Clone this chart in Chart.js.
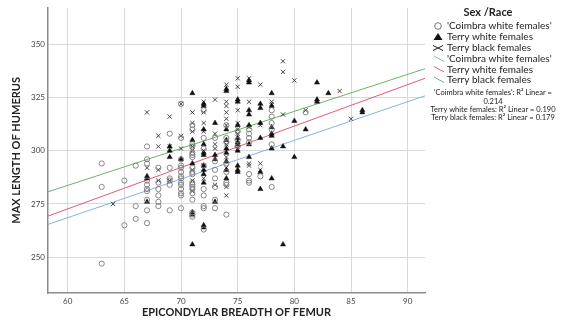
<!DOCTYPE html>
<html>
<head>
<meta charset="utf-8">
<script src="https://cdn.jsdelivr.net/npm/chart.js@4"></script>
<style>
html, body { margin: 0; padding: 0; background: #fff; }
</style>
</head>
<body>
<canvas id="myChart" width="564" height="328"></canvas>
<script>
const xTicks = [60, 65, 70, 75, 80, 85, 90];
const yTicks = [250, 275, 300, 325, 350];

// epicondylar breadth columns and the humerus lengths seen in each
const coimbraCols = [63, 65, 66, 67, 68, 69, 70, 71, 72, 73, 74, 75, 76, 77, 78, 81];
const coimbraVals = [
    [294, 283, 247],
    [286, 265],
    [293, 274, 268],
    [302, 296, 294, 286, 284, 282, 281, 277, 272, 266],
    [292, 285, 282, 279, 276, 274],
    [308, 292, 287, 286, 284, 272],
    [322, 306, 296, 293, 292, 290, 288, 287, 285, 284, 282, 280, 279, 273],
    [312, 310, 303, 302, 299, 298, 297, 292, 290, 289, 285, 284, 283, 282, 280, 277, 271, 270, 269],
    [319, 306, 301, 293, 282, 279, 274, 273, 263],
    [306, 295, 291, 287, 283, 277, 273],
    [312, 306, 304, 294, 290, 285, 284, 270],
    [309, 305, 302],
    [310, 308, 306, 304, 289, 286, 285],
    [288],
    [319, 316, 313, 310, 303, 283],
    [318]
];

const whiteCols = [67, 69, 70, 71, 72, 73, 74, 75, 76, 77, 78, 79, 80, 81, 82, 83, 86];
const whiteVals = [
    [288, 287, 276],
    [302, 300, 297],
    [296],
    [327, 305, 294, 271, 270, 256],
    [322, 321, 310, 303, 299, 298, 293, 291, 289, 285, 265, 264],
    [313, 298, 296, 276],
    [329, 328, 310, 305, 301, 299, 295, 291, 287],
    [324, 323, 312, 306, 304, 303, 300, 293, 291, 290],
    [333, 332, 319, 317, 312, 303, 297],
    [322, 320, 313, 306, 290, 282],
    [327, 321, 311, 308, 307, 301, 287],
    [302, 256],
    [314, 297],
    [310],
    [332, 324, 323],
    [327],
    [319, 318]
];

const blackCols = [64, 67, 68, 69, 70, 71, 72, 73, 74, 75, 76, 77, 78, 79, 80, 81, 84, 85];
const blackVals = [
    [275],
    [318, 292],
    [307, 302, 291, 286],
    [316, 302, 286],
    [322, 307, 301],
    [318, 313, 309, 302, 300, 291, 286, 281],
    [323, 318, 313, 309, 300, 293, 287],
    [324, 308, 303, 301, 284],
    [331, 323, 321, 318, 315, 312, 303, 297, 292, 283, 279],
    [334, 330, 319, 313, 310, 308, 301],
    [334, 323, 311, 294, 293],
    [331, 312, 294, 291],
    [323, 322],
    [342, 337, 317],
    [333],
    [319],
    [328],
    [315]
];

// fit lines, value at each end of the x axis
const fitX = [58.26, 91.53];
const coimbraFit = [265.4, 325.8];
const whiteFit = [269.3, 334.0];
const blackFit = [280.7, 338.5];

const r2Text = [
    "'Coimbra white females': R² Linear =",
    "0.214",
    "Terry white females: R² Linear = 0.190",
    "Terry black females: R² Linear = 0.179"
];

function points(cols, vals) {
    let out = [];
    cols.forEach((c, i) => vals[i].forEach(v => out.push({x: c, y: v})));
    return out;
}

function fitLine(ys) {
    return fitX.map((x, i) => ({x: x, y: ys[i]}));
}

const sideLegend = {
    id: 'sideLegend',
    afterDraw(chart) {
        const ctx = chart.ctx;
        const ds = chart.data.datasets;
        ctx.save();
        ctx.fillStyle = '#222';
        ctx.textBaseline = 'middle';
        ctx.textAlign = 'center';
        ctx.font = 'bold 11px Lato';
        ctx.fillText('Sex /Race', 488, 12);

        const rows = [26, 37, 48, 59, 69.5, 80];
        ctx.font = '10px Lato';
        ctx.textAlign = 'left';
        ds.forEach((d, i) => {
            const y = rows[i];
            ctx.fillStyle = '#222';
            ctx.fillText(d.label, 447, y);
            ctx.lineWidth = 1;
            if (i == 0) {
                ctx.strokeStyle = '#777';
                ctx.beginPath();
                ctx.arc(438, y, 3.3, 0, Math.PI * 2);
                ctx.stroke();
            } else if (i == 1) {
                ctx.fillStyle = '#111';
                ctx.beginPath();
                ctx.moveTo(438, y - 4);
                ctx.lineTo(442.5, y + 3);
                ctx.lineTo(433.5, y + 3);
                ctx.closePath();
                ctx.fill();
            } else if (i == 2) {
                ctx.strokeStyle = '#222';
                ctx.beginPath();
                ctx.moveTo(433, y - 2.5);
                ctx.lineTo(443, y + 2.5);
                ctx.moveTo(433, y + 2.5);
                ctx.lineTo(443, y - 2.5);
                ctx.stroke();
            } else {
                ctx.strokeStyle = d.borderColor;
                ctx.beginPath();
                ctx.moveTo(434, y - 3);
                ctx.lineTo(444, y + 2.5);
                ctx.stroke();
            }
        });

        ctx.fillStyle = '#222';
        ctx.textAlign = 'center';
        ctx.font = '7.5px Lato';
        [93, 101.5, 110, 118].forEach((y, i) => ctx.fillText(r2Text[i], 493, y));
        ctx.restore();
    }
};

const data = {
    datasets: [{
        label: "'Coimbra white females'",
        data: points(coimbraCols, coimbraVals),
        pointStyle: 'circle',
        pointRadius: 2.6,
        borderColor: '#7a7a7a',
        backgroundColor: 'rgba(0,0,0,0)',
        borderWidth: 0.9
    }, {
        label: 'Terry white females',
        data: points(whiteCols, whiteVals),
        pointStyle: 'triangle',
        pointRadius: 3,
        borderColor: '#111',
        backgroundColor: '#111',
        borderWidth: 0.5
    }, {
        label: 'Terry black females',
        data: points(blackCols, blackVals),
        pointStyle: 'crossRot',
        pointRadius: 3,
        borderColor: '#333',
        borderWidth: 0.9
    }, {
        label: "'Coimbra white females'",
        data: fitLine(coimbraFit),
        showLine: true,
        pointRadius: 0,
        borderColor: '#86b2e6',
        borderWidth: 1
    }, {
        label: 'Terry white females',
        data: fitLine(whiteFit),
        showLine: true,
        pointRadius: 0,
        borderColor: '#e4587a',
        borderWidth: 1
    }, {
        label: 'Terry black females',
        data: fitLine(blackFit),
        showLine: true,
        pointRadius: 0,
        borderColor: '#6db26a',
        borderWidth: 1
    }]
};

const config = {
    type: 'scatter',
    data: data,
    plugins: [sideLegend],
    options: {
        responsive: false,
        animation: false,
        layout: { padding: { left: 0, right: 139, top: 1, bottom: 0 } },
        plugins: { legend: { display: false }, tooltip: { enabled: false } },
        scales: {
            x: {
                min: 58.26,
                max: 91.53,
                afterBuildTicks: s => { s.ticks = xTicks.map(v => ({value: v})); },
                afterFit: s => { s.height = 35; },
                grid: { color: '#d9d9d9', drawTicks: false },
                border: { color: '#8c8c8c', width: 1.5 },
                ticks: { font: { family: 'Lato', size: 8 }, color: '#444', padding: 4 },
                title: { display: true, text: 'EPICONDYLAR BREADTH OF FEMUR', color: '#222',
                         font: { family: 'Lato', size: 11, weight: 'bold' }, padding: { bottom: 9 } }
            },
            y: {
                min: 233.2,
                max: 367.1,
                afterBuildTicks: s => { s.ticks = yTicks.map(v => ({value: v})); },
                afterFit: s => { s.width = 48; },
                grid: { color: '#d9d9d9', drawTicks: false },
                border: { color: '#8c8c8c', width: 1.5 },
                ticks: { font: { family: 'Lato', size: 8 }, color: '#444', padding: 3 },
                title: { display: true, text: 'MAX LENGTH OF HUMERUS', color: '#222',
                         font: { family: 'Lato', size: 11, weight: 'bold' }, padding: { top: 10 } }
            }
        }
    }
};

const myChart = new Chart(document.getElementById('myChart'), config);
</script>
</body>
</html>
